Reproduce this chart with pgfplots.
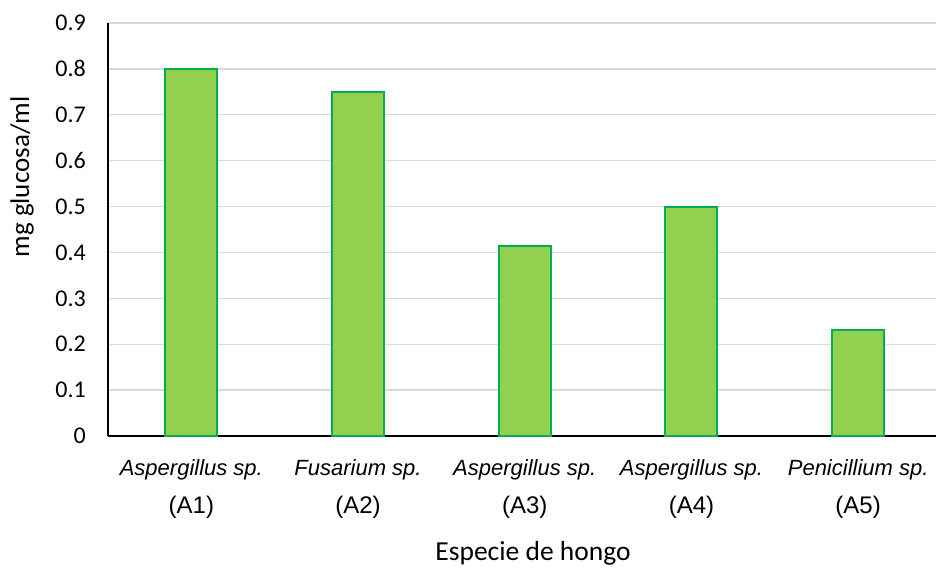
\documentclass[border=0pt]{standalone}
\usepackage{fontspec}
\setmainfont{Carlito}
\newfontfamily\arial{Liberation Sans}
\usepackage{pgfplots}
\pgfplotsset{compat=1.18}

\definecolor{barfill}{HTML}{92D050}
\definecolor{barline}{HTML}{00B050}
\definecolor{gridgray}{HTML}{D9D9D9}

\begin{document}
\begin{tikzpicture}
\begin{axis}[%
	scale only axis,
	width=828pt,
	height=413pt,
	xmin=-0.5, xmax=4.467,
	ymin=0, ymax=0.9,
	axis lines=left,
	axis line style={-, black, line width=1.6pt},
	ybar,
	bar width=52pt,
	major tick length=0pt,
	xtick={0,1,2,3,4},
	xticklabels={%
		{\textit{Aspergillus sp.}\\{\fontsize{24}{38}\selectfont (A1)}},
		{\textit{Fusarium sp.}\\{\fontsize{24}{38}\selectfont (A2)}},
		{\textit{Aspergillus sp.}\\{\fontsize{24}{38}\selectfont (A3)}},
		{\textit{Aspergillus sp.}\\{\fontsize{24}{38}\selectfont (A4)}},
		{\textit{Penicillium sp.}\\{\fontsize{24}{38}\selectfont (A5)}}},
	xticklabel style={font=\arial\fontsize{22}{38}\selectfont, align=center,
		anchor=north, inner sep=0pt, yshift=-23pt},
	ytick={0,0.1,...,0.9},
	yticklabels={0,0.1,0.2,0.3,0.4,0.5,0.6,0.7,0.8,0.9},
	yticklabel style={font=\fontsize{24}{24}\selectfont, anchor=east,
		inner sep=0pt, xshift=-22pt},
	/pgf/number format/assume math mode=true,
	ymajorgrids,
	grid style={gridgray, line width=1.3pt},
	xlabel={Especie de hongo},
	ylabel={mg glucosa/ml},
	every axis x label/.style={at={(rel axis cs:0,0)}, xshift=425pt, yshift=-117pt,
		anchor=center, font=\fontsize{27.5}{30}\selectfont},
	every axis y label/.style={at={(rel axis cs:0,0)}, xshift=-86pt, yshift=259pt,
		rotate=90, anchor=center, font=\fontsize{27}{30}\selectfont},
	clip=false,
]
% mg glucosa/ml por especie
\addplot [fill=barfill, draw=barline, line width=2pt]
	coordinates {
		(0,0.80)   % A1
		(1,0.75)   % A2
		(2,0.415)  % A3
		(3,0.50)   % A4
		(4,0.23)   % A5
	};
\end{axis}
\pgfresetboundingbox
\path[use as bounding box] (-108pt,-131pt) rectangle (828pt,436pt);
\end{tikzpicture}
\end{document}
